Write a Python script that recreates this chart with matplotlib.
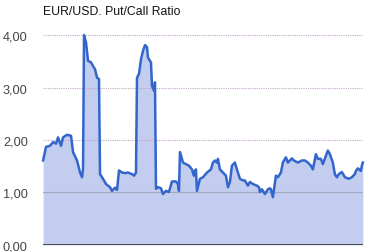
import numpy as np
import matplotlib
matplotlib.use("Agg")
import matplotlib.pyplot as plt
from matplotlib.ticker import FixedLocator, FuncFormatter

# position along the period (arbitrary day index) and the put/call ratio
t = [0, 3, 7, 10, 13, 15, 18, 20, 24, 28, 30, 34, 37, 39, 40, 41, 43, 45, 48, 50,
     52, 54, 56, 57, 60, 63, 67, 69, 72, 74, 76, 79, 82, 85, 89, 91, 93, 94, 96, 98,
     100, 102, 104, 105, 108, 109, 111, 112, 113, 115, 118, 120, 123, 126, 129, 133, 135, 136, 137, 140,
     143, 146, 149, 151, 152, 153, 154, 157, 160, 164, 168, 170, 172, 174, 175, 177, 180, 183, 185, 187,
     189, 192, 194, 197, 200, 202, 205, 207, 210, 214, 216, 217, 219, 222, 225, 227, 228, 230, 233, 235,
     238, 240, 243, 245, 249, 251, 255, 259, 262, 265, 268, 270, 273, 275, 278, 280, 283, 285, 287, 290,
     292, 294, 296, 299, 302, 306, 309, 312, 313, 315, 318, 319, 320]
ratio = [1.61, 1.87, 1.89, 1.96, 1.93, 2.05, 1.89, 2.05, 2.10, 2.08, 1.77, 1.61, 1.38, 1.29, 1.45, 4.00, 3.86, 3.51, 3.48, 3.41,
         3.35, 3.19, 3.16, 1.35, 1.26, 1.16, 1.10, 1.03, 1.09, 1.05, 1.42, 1.38, 1.37, 1.38, 1.35, 1.32, 1.38, 3.19, 3.26, 3.54,
         3.70, 3.81, 3.77, 3.57, 3.48, 3.03, 2.94, 3.10, 1.07, 1.10, 1.08, 0.97, 1.03, 1.01, 1.21, 1.21, 1.16, 1.03, 1.77, 1.57,
         1.54, 1.51, 1.44, 1.32, 1.41, 1.44, 1.03, 1.26, 1.29, 1.38, 1.44, 1.57, 1.61, 1.57, 1.64, 1.44, 1.38, 1.32, 1.10, 1.20,
         1.51, 1.57, 1.44, 1.26, 1.23, 1.23, 1.13, 1.20, 1.16, 1.13, 1.10, 1.01, 1.06, 0.97, 1.06, 1.08, 1.06, 0.91, 1.32, 1.29,
         1.38, 1.57, 1.67, 1.57, 1.65, 1.61, 1.57, 1.61, 1.61, 1.57, 1.51, 1.44, 1.73, 1.64, 1.64, 1.54, 1.70, 1.80, 1.73, 1.57,
         1.35, 1.29, 1.35, 1.39, 1.29, 1.26, 1.29, 1.35, 1.41, 1.46, 1.41, 1.51, 1.57]
yticks = [0, 1, 2, 3, 4]

plt.rcParams["font.family"] = ["Liberation Sans", "DejaVu Sans"]

fig = plt.figure(figsize=(3.68, 2.53), dpi=100)
ax = fig.add_axes([0.117, 0.028, 0.869, 0.85])

ax.fill_between(t, ratio, 0, color="#c3cdf0", lw=0, zorder=1)
ax.plot(t, ratio, color="#3366cc", lw=1.8, zorder=3, clip_on=False)

ax.set_xlim(t[0], t[-1])
ax.set_ylim(0, 4.1)
ax.yaxis.set_major_locator(FixedLocator(yticks))
ax.yaxis.set_major_formatter(FuncFormatter(lambda v, p: f"{v:.2f}".replace(".", ",")))
for v in yticks[1:]:
    ax.axhline(v, color="#c4a6c8", lw=0.8, ls=(0, (1, 1)), zorder=2)
ax.axhline(1, color="#a4a8c0", lw=0.8, zorder=2)
ax.axhline(0, color="#333333", lw=1.2, zorder=4)

for s in ax.spines.values():
    s.set_visible(False)
ax.set_xticks([])
ax.tick_params(axis="y", length=0, pad=11, labelsize=9.2, labelcolor="#444444")

fig.text(0.117, 0.952, "EUR/USD. Put/Call Ratio", fontsize=8.8, color="#111111",
         ha="left", va="center")

plt.savefig("out.png", dpi=100)
